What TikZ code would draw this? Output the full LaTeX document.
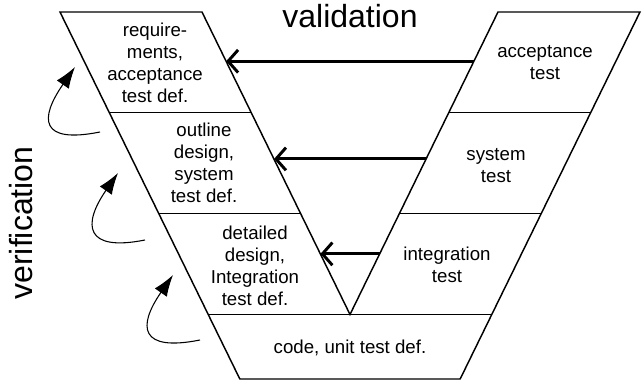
\documentclass[tikz,border=0pt]{standalone}
\usepackage{fontspec}
\setmainfont{Liberation Sans}
\usetikzlibrary{arrows.meta,calc}
\begin{document}
\begin{tikzpicture}[x=0.75pt,y=-0.75pt,
    txt/.style={align=center,font=\fontsize{14}{16.5}\selectfont},
    big/.style={font=\fontsize{24}{28}\selectfont},
    vline/.style={line width=1.1pt},
    valarrow/.style={-{Straight Barb[length=7.5pt,width=17pt]},line width=2.2pt},
    verarrow/.style={-{Latex[length=16pt,width=11pt]},line width=0.8pt}]
    \useasboundingbox (0,0) rectangle (644,381);
    \def\s{0.49} % do nghieng canh
    % goc cua chu V
    \coordinate (A0) at (60,12);
    \coordinate (A1) at ({60+\s*100.5},112.5);
    \coordinate (A2) at ({60+\s*201.5},213.5);
    \coordinate (A3) at ({60+\s*302.5},314.5);
    \coordinate (A4) at ({60+\s*367},379);
    \coordinate (B0) at (202,12);
    \coordinate (B1) at ({202+\s*100.5},112.5);
    \coordinate (B2) at ({202+\s*201.5},213.5);
    \coordinate (V) at (350,314.5);
    \coordinate (C0) at (498,12);
    \coordinate (C1) at ({498-\s*100.5},112.5);
    \coordinate (C2) at ({498-\s*201.5},213.5);
    \coordinate (D0) at (640,12);
    \coordinate (D1) at ({640-\s*100.5},112.5);
    \coordinate (D2) at ({640-\s*201.5},213.5);
    \coordinate (D3) at ({640-\s*302.5},314.5);
    \coordinate (D4) at ({640-\s*367},379);
    \draw[vline] (A0) -- (B0) -- (V) -- (C0) -- (D0) -- (D4) -- (A4) -- cycle;
    \draw[vline] (A1) -- (B1) (A2) -- (B2) (C1) -- (D1) (C2) -- (D2) (A3) -- (D3);
    % chu
    \node[big] (vali) at (350,16) {validation};
    \node[big,rotate=90] (veri) at (21,223) {verification};
    \node[txt] (req) at (155,63) {require-\\ments,\\acceptance\\test def.};
    \node[txt] (outl) at (204,163) {outline\\design,\\system\\test def.};
    \node[txt] (detl) at (255,266) {detailed\\design,\\Integration\\test def.};
    \node[txt] (acc) at (545,63) {acceptance\\test};
    \node[txt] (sys) at (496,166) {system\\test};
    \node[txt] (integ) at (447,265) {integration\\test};
    \node[txt] (code) at (350,348) {code, unit test def.};
    % mui ten validation
    \draw[valarrow] ($(C0)!.49!(C1)$) -- ($(B0)!.49!(B1)$);
    \draw[valarrow] ($(C1)!.46!(C2)$) -- ($(B1)!.46!(B2)$);
    \draw[valarrow] ($(C2)!.4!(V)$) -- ($(B2)!.4!(V)$);
    % mui ten verification
    \foreach \sx/\sy/\tx/\ty [count=\i] in {100/132/75/67, 145/240/118/173, 200/340/173/275}{
        \coordinate (vs\i) at (\sx,\sy);
        \coordinate (vt\i) at (\tx,\ty);
        \draw[verarrow] (vs\i) .. controls +(-60,12) and +(-36,52) .. (vt\i);
    }
\end{tikzpicture}
\end{document}
